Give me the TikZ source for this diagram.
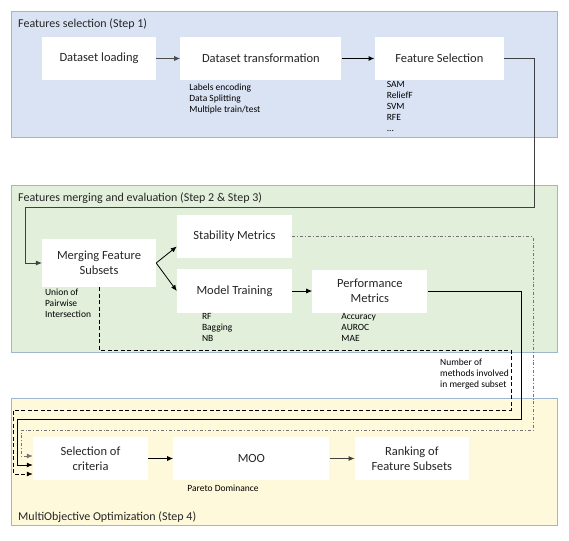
\documentclass[tikz,border=0pt]{standalone}
\usepackage{fontspec}
\setmainfont{Carlito}
\usepackage{tikz}
\usetikzlibrary{arrows.meta,positioning}

\definecolor{panelline}{RGB}{160,182,208}
\definecolor{bluefill}{RGB}{218,227,243}
\definecolor{greenfill}{RGB}{226,239,218}
\definecolor{yellowfill}{RGB}{255,249,219}

\begin{document}
\begin{tikzpicture}[
		x=1pt, y=-1pt,
		node distance=24pt and 24pt,
		panel/.style={rectangle, draw=panelline, line width=0.8pt, anchor=north west, minimum width=546pt},
		box/.style={rectangle, fill=white, minimum height=43pt, align=center, text=black!85, font=\fontsize{12.5}{15}\selectfont},
		note/.style={anchor=north west, inner sep=0pt, align=left, font=\fontsize{9.5}{11}\selectfont},
		title/.style={anchor=west, inner sep=0pt, text=black!85, font=\fontsize{12}{14}\selectfont},
		arr/.style={-{Latex[length=6pt,width=5pt]}, line width=0.8pt}
	]
		\useasboundingbox (0,0) rectangle (569,540);

		% panels
		\node[panel, fill=bluefill, minimum height=126pt](step1) at (11,11){};
		\node[panel, fill=greenfill, minimum height=167pt](step23) at (11,185){};
		\node[panel, fill=yellowfill, minimum height=127pt](step4) at (11,398){};
		\node[title](title1) at (18,24){Features selection (Step 1)};
		\node[title](title23) at (18,198){Features merging and evaluation (Step 2 \& Step 3)};
		\node[title](title4) at (18,517){MultiObjective Optimization (Step 4)};

		% step 1
		\node[box, minimum width=114pt](load) at (99,58.5){Dataset loading};
		\node[box, minimum width=161pt](trans)[right =24pt of load]{Dataset transformation};
		\node[box, minimum width=129pt](fsel)[right =33pt of trans]{Feature Selection};
		\node[note](transnote) at ([xshift=9pt,yshift=-4pt]trans.south west){Labels encoding\\Data Splitting\\Multiple train/test};
		\node[note](fselnote) at ([xshift=12pt,yshift=-1pt]fsel.south west){SAM\\ReliefF\\SVM\\RFE\\...};

		% step 2 and 3
		\node[box, minimum width=114pt, minimum height=48pt](merge) at (99,263){Merging Feature\\Subsets};
		\node[box, minimum width=115pt](stab) at (234.5,236.5){Stability Metrics};
		\node[box, minimum width=115pt, minimum height=44pt](model) at (234.5,291){Model Training};
		\node[box, minimum width=115pt](perf)[right =20pt of model]{Performance\\Metrics};
		\node[note](mergenote) at ([xshift=3pt,yshift=-2pt]merge.south west){Union of\\Pairwise\\Intersection};
		\node[note](modelnote) at ([xshift=25pt]model.south west){RF\\Bagging\\NB};
		\node[note](perfnote) at ([xshift=29pt,yshift=-1pt]perf.south west){Accuracy\\AUROC\\MAE};
		\node[note](countnote) at (440,359){Number of\\methods involved\\in merged subset};

		% step 4
		\node[box, minimum width=115pt](sel) at (90.5,458.5){Selection of\\criteria};
		\node[box, minimum width=156pt](moo)[right =25pt of sel]{MOO};
		\node[box, minimum width=114pt](rank)[right =25pt of moo]{Ranking of\\Feature Subsets};
		\node[note](moonote) at ([xshift=14pt,yshift=-5pt]moo.south west){Pareto Dominance};

		\draw[arr, black!70](load) -- (trans);
		\draw[arr, line width=1.3pt](trans) -- (fsel);
		\draw[arr](merge.east) -- ([yshift=-10pt]stab.west);
		\draw[arr](merge.east) -- (model.west);
		\draw[arr](model) -- (perf);
		\draw[arr](sel) -- (moo);
		\draw[arr, black!75](moo) -- (rank);

		% links between the steps
		\coordinate (fs-turn) at (534,207);
		\coordinate (fs-back) at (25,207);
		\draw[arr, line width=0.6pt, black!75](fsel.east) -| (fs-turn) -- (fs-back) |- (merge.west);

		\coordinate (stab-turn) at (533,430);
		\coordinate (stab-back) at (21,430);
		\draw[arr, black!55, dash dot](stab.east) -| (stab-turn) -- (stab-back) |- ([yshift=2.5pt]sel.west);

		\coordinate (perf-turn) at (521,419);
		\coordinate (perf-back) at (17,419);
		\draw[arr](perf.east) -| (perf-turn) -- (perf-back) |- ([yshift=-6.5pt]sel.west);

		\coordinate (count-turn) at (511,350);
		\coordinate (count-back) at (13,410);
		\draw[arr, dash pattern=on 4pt off 2.5pt](merge.south) |- (count-turn) |- (count-back) |- ([yshift=-15.5pt]sel.west);
	\end{tikzpicture}
\end{document}
